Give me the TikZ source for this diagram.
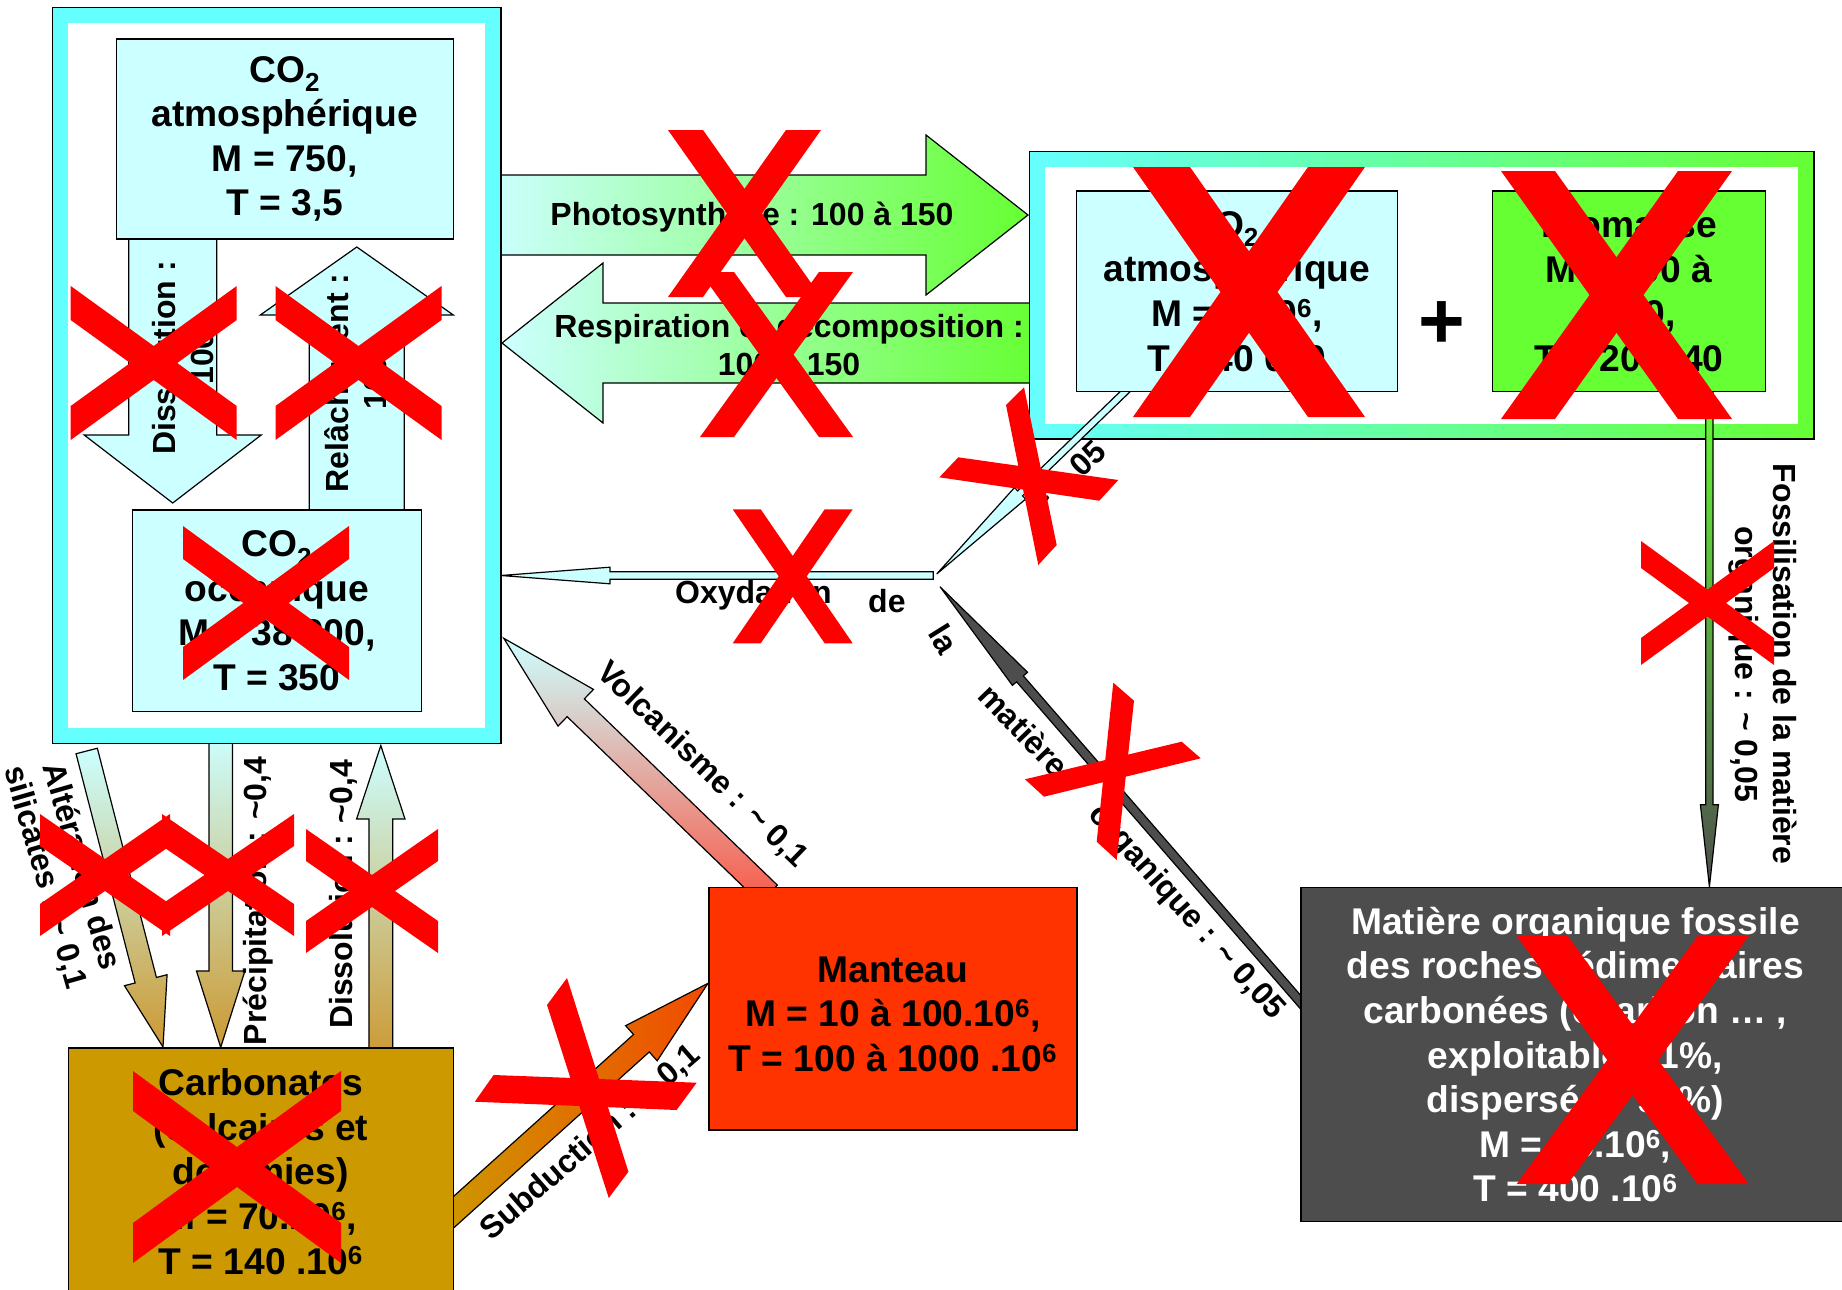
\documentclass[tikz,border=0pt]{standalone}
\usepackage{fontspec}
\setmainfont{Liberation Sans}
\usetikzlibrary{calc}
\definecolor{boxcyan}{HTML}{CCFFFF}
\definecolor{framecyan}{HTML}{66FFFF}
\definecolor{biogreen}{HTML}{66FF33}
\definecolor{mantred}{HTML}{FF3300}
\definecolor{carbgold}{HTML}{CC9900}
\definecolor{goldlt}{HTML}{CC9933}
\definecolor{fossgray}{HTML}{4D4D4D}
\definecolor{xred}{HTML}{FF0000}
\definecolor{volcred}{HTML}{F85A4A}
\definecolor{subdorange}{HTML}{F24A00}
\tikzset{
  box/.style={draw=black, line width=1.5pt, inner sep=0pt, align=center},
  boxtxt/.style={font=\bfseries\fontsize{37.2}{44.6}\selectfont},
  bigtxt/.style={font=\bfseries\fontsize{37.2}{44.6}\selectfont},
  lbl/.style={font=\bfseries\fontsize{32}{38}\selectfont, align=center, inner sep=0pt},
  arr/.style={draw=black, line width=1.2pt, line join=miter},
}
% block arrow: #1 style, #2 tail, #3 tip, #4 shaft half width, #5 head half width, #6 head length
\newcommand{\blockarr}[6]{%
  \coordinate (tmph) at ($(#3)!#6pt!(#2)$);
  \path[#1] ($(#2)!#4pt!90:(#3)$) -- ($(tmph)!#4pt!90:(#3)$) -- ($(tmph)!#5pt!90:(#3)$)
    -- (#3) -- ($(tmph)!#5pt!-90:(#3)$) -- ($(tmph)!#4pt!-90:(#3)$) -- ($(#2)!#4pt!-90:(#3)$) -- cycle;}
% red cross, letter shape (horizontal ends)
\newcommand{\redX}[5]{%
  \fill[xred] ({#1-#3},{#2-#4}) -- ({#1-#3+#5},{#2-#4}) -- ({#1+#3},{#2+#4}) -- ({#1+#3-#5},{#2+#4}) -- cycle;
  \fill[xred] ({#1+#3-#5},{#2-#4}) -- ({#1+#3},{#2-#4}) -- ({#1-#3+#5},{#2+#4}) -- ({#1-#3},{#2+#4}) -- cycle;}
% red cross with vertical ends
\newcommand{\redXv}[5]{%
  \fill[xred] ({#1-#3},{#2-#4}) -- ({#1-#3},{#2-#4+#5}) -- ({#1+#3},{#2+#4}) -- ({#1+#3},{#2+#4-#5}) -- cycle;
  \fill[xred] ({#1-#3},{#2+#4}) -- ({#1-#3},{#2+#4-#5}) -- ({#1+#3},{#2-#4}) -- ({#1+#3},{#2-#4+#5}) -- cycle;}
\begin{document}
\begin{tikzpicture}[x=1pt,y=-1pt]
\useasboundingbox (0,0) rectangle (1842,1290);
\clip (0,0) rectangle (1842,1290);
\fill[white] (0,0) rectangle (1842,1290);

% ---- coordinates of arrow ends
\coordinate (ph-t) at (490,215);    \coordinate (ph-h) at (1028,215);
\coordinate (re-t) at (1035,343);   \coordinate (re-h) at (502,343);
\coordinate (dt-t) at (172.7,230);  \coordinate (dt-h) at (172.7,503);
\coordinate (rl-t) at (356.8,520);  \coordinate (rl-h) at (356.8,247);
\coordinate (junction) at (933.3,575.5); \coordinate (ox-h) at (501,575.5);
\coordinate (o2-t) at (1132,385);   \coordinate (o2-h) at (936.7,574);
\coordinate (dk-t) at (1310,1013);  \coordinate (dk-h) at (940,586.7);
\coordinate (fo-t) at (1709.4,385); \coordinate (fo-h) at (1709.4,886.7);
\coordinate (vo-t) at (768.7,894);  \coordinate (vo-h) at (503.8,638.3);
\coordinate (su-t) at (446,1219);   \coordinate (su-h) at (708,983.3);
\coordinate (al-t) at (86.7,751);   \coordinate (al-h) at (163,1047);
\coordinate (pr-t) at (220.7,735);  \coordinate (pr-h) at (220.7,1047.3);
\coordinate (db-t) at (380.8,1058); \coordinate (db-h) at (380.8,745.5);

% ---- arrows below frames
\blockarr{arr, left color=boxcyan, right color=biogreen}{ph-t}{ph-h}{40}{80}{102}
\blockarr{arr, left color=boxcyan, right color=biogreen}{re-t}{re-h}{40}{80}{101}
\blockarr{arr, top color=boxcyan, bottom color=goldlt}{pr-t}{pr-h}{11.7}{24.2}{76.3}
\blockarr{arr, top color=boxcyan, bottom color=goldlt}{al-t}{al-h}{11}{22}{69}
\blockarr{arr, top color=boxcyan, bottom color=goldlt}{db-t}{db-h}{11.85}{24.2}{73.5}
\blockarr{arr, top color=boxcyan, bottom color=volcred}{vo-t}{vo-h}{12.4}{25.5}{100}
\blockarr{arr, left color=carbgold, right color=subdorange}{su-t}{su-h}{11.75}{23.6}{89.6}
\blockarr{arr, fill=fossgray}{dk-t}{dk-h}{4.5}{10}{122}
\blockarr{arr, fill=boxcyan}{junction}{ox-h}{3.8}{8.3}{109}

% ---- frames
\filldraw[fill=framecyan, draw=black, line width=1.5pt] (52.3,7.3) rectangle (501,743.6);
\fill[white] (67.7,22.8) rectangle (485.3,728.3);
\path[left color=framecyan, right color=biogreen, draw=black, line width=1.5pt] (1029.4,151.7) rectangle (1814,439);
\fill[white] (1045,167) rectangle (1798,424);

% ---- arrows above frames
\blockarr{arr, fill=boxcyan}{o2-t}{o2-h}{3.5}{8}{116}
\blockarr{arr, top color=biogreen, bottom color=fossgray}{fo-t}{fo-h}{3.6}{9}{82}
\blockarr{arr, fill=boxcyan}{dt-t}{dt-h}{44}{88.5}{68}
\blockarr{arr, fill=boxcyan}{rl-t}{rl-h}{47.5}{96.5}{68}

% ---- boxes
\node[box, boxtxt, fill=boxcyan, minimum width=337pt, minimum height=200.2pt] (atm) at (284.8,138.9)
  {CO\textsubscript{2}\\atmosphérique\\M = 750,\\T = 3,5};
\node[box, boxtxt, fill=boxcyan, minimum width=289pt, minimum height=201.6pt] (ocean) at (276.8,610.8)
  {CO\textsubscript{2}\\océanique\\M = 38 000,\\T = 350};
\node[box, boxtxt, fill=boxcyan, minimum width=320.8pt, minimum height=200.7pt] (otwo) at (1237,291.35)
  {O\textsubscript{2}\\atmosphérique\\M = 1.10\textsuperscript{6},\\T = 40 000};
\node[box, boxtxt, fill=biogreen, minimum width=272.6pt, minimum height=200.7pt] (bio) at (1629,291.35)
  {Biomasse\\M = 600 à\\1000,\\T = 20 à 40};
\node[box, fill=mantred, minimum width=368.2pt, minimum height=242.3pt] (mant) at (892.9,1008.85) {};
\node[bigtxt, align=center, inner sep=0pt] (mant-txt) at (892.9,1014)
  {Manteau\\M = 10 à 100.10\textsuperscript{6},\\T = 100 à 1000 .10\textsuperscript{6}};
\node[box, bigtxt, fill=carbgold, minimum width=385pt, minimum height=247pt] (carb) at (260.8,1171.5)
  {Carbonates\\(calcaires et\\dolomies)\\M = 70.10\textsuperscript{6},\\T = 140 .10\textsuperscript{6}};
\node[box, bigtxt, fill=fossgray, text=white, minimum width=549.2pt, minimum height=334pt] (foss) at (1575.4,1054.7)
  {Matière organique fossile\\des roches sédimentaires\\carbonées (charbon … ,\\exploitable : 1\%,\\dispersée : 99\%)\\M = 15.10\textsuperscript{6},\\T = 400 .10\textsuperscript{6}};

\node[font=\bfseries\fontsize{80}{80}\selectfont, inner sep=0pt] (plus) at (1442,325) {+};

% ---- labels
\node[lbl] (l-ph) at (752,217) {Photosynthèse : 100 à 150};
\node[lbl] (l-re) at (789,345) {Respiration et décomposition :\\100 à 150};
\node[lbl, rotate=90] (l-dt) at (183,358) {Dissolution :\\100};
\node[lbl, rotate=90] (l-rl) at (355.5,383) {Relâchement :\\100};
\node[lbl, anchor=base west] (l-ox1) at (675,603) {Oxydation};
\node[lbl, anchor=base west] (l-ox2) at (868,612) {de};
\node[lbl, rotate=-58] (l-ox3) at (944,639) {la};
\node[lbl, rotate=-46] (l-ox4) at (1024,730) {matière};
\node[lbl, rotate=-48] (l-ox5) at (1186,913) {organique : \textasciitilde{} 0,05};
\node[lbl, rotate=44] (l-o2) at (1070,479) {\textasciitilde{} 0,05};
\node[lbl, rotate=-44] (l-vo) at (702,765) {Volcanisme : \textasciitilde{} 0,1};
\node[lbl, rotate=41] (l-su) at (590.6,1143) {Subduction : \textasciitilde{} 0,1};
\node[lbl, rotate=90] (l-pr) at (258.3,901) {Précipitation : \textasciitilde0,4};
\node[lbl, rotate=90] (l-db) at (343.3,894.5) {Dissolution : \textasciitilde0,4};
\node[lbl, rotate=-74] (l-al) at (63,872) {Altération des\\silicates : \textasciitilde{} 0,1};
\node[lbl, rotate=-90] (l-fo) at (1763,664) {Fossilisation de la matière\\organique : \textasciitilde{} 0,05};

% ---- red crosses
\redXv{153.7}{363}{83}{77}{34}
\redXv{358.5}{363}{83}{77}{34}
\redXv{266}{603}{83}{77}{33}
\redX{744.5}{213.5}{76.5}{83.5}{35}
\redX{776.5}{354.5}{76.5}{82.5}{34}
\redX{1249}{292}{116}{125}{57}
\redX{1616.5}{295}{115.5}{124}{54}
\redX{792.7}{576.3}{60}{67}{28}
\redX{1632.7}{1060}{116}{124}{51}
\redXv{1707.5}{603}{66.5}{62}{27}
\redXv{105}{875}{65}{61}{32}
\redXv{228}{875}{66}{61}{32}
\redXv{372}{891}{66}{62}{32}
\redXv{237}{1167}{104}{96}{40}
% rotated crosses
\fill[xred] (1024,387.3) -- (1006,405) -- (1038.3,565) -- (1056.7,545) -- cycle;
\fill[xred] (958.3,457.3) -- (939.3,477.3) -- (1099.3,500.7) -- (1118.3,480) -- cycle;
\fill[xred] (1113.3,682.7) -- (1134,700.7) -- (1116.7,860) -- (1096.7,841.7) -- cycle;
\fill[xred] (1025,779.3) -- (1044,796.7) -- (1200.7,758.3) -- (1181.7,741.7) -- cycle;
\fill[xred] (567,978) -- (547,1005) -- (608.8,1198) -- (628.4,1171.7) -- cycle;
\fill[xred] (493.6,1075) -- (474.8,1101.7) -- (676.6,1110) -- (696.7,1082.7) -- cycle;
\end{tikzpicture}
\end{document}
